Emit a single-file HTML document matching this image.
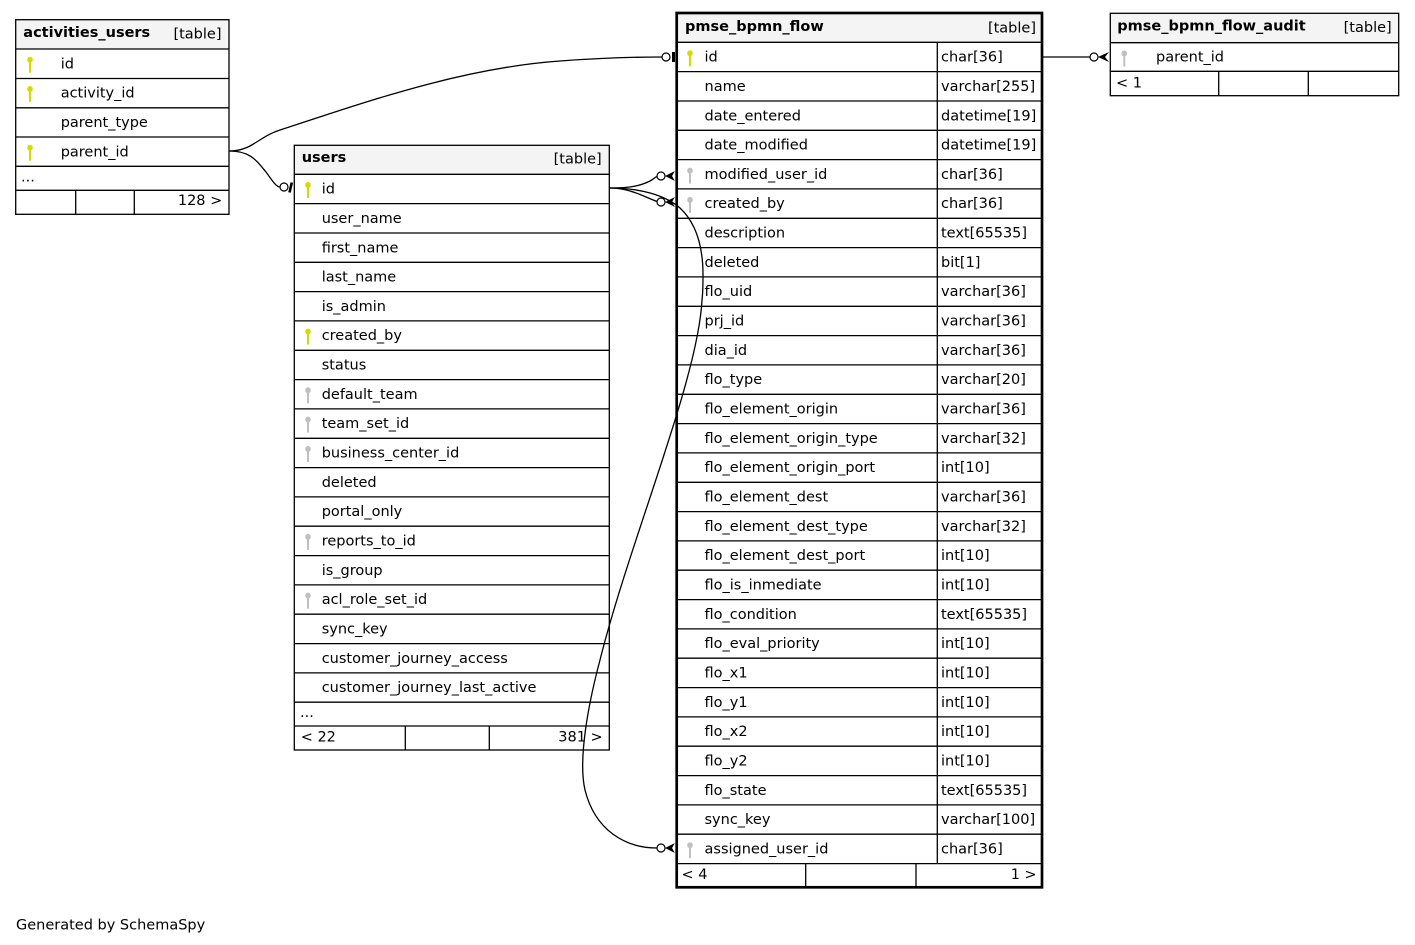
<!DOCTYPE html>
<html><head><meta charset="utf-8"><style>
html,body{margin:0;padding:0;background:#fff;}
svg{display:block;font-family:"DejaVu Sans","Liberation Sans",sans-serif;font-size:14.5px;}
.b{font-weight:bold;}
.e{text-anchor:end;}
.l{stroke:#000;stroke-width:1.3;fill:none;}
.h{fill:#f4f4f4;stroke:none;}
</style></head><body>
<svg width="1415" height="945" viewBox="0 0 1415 945" xmlns="http://www.w3.org/2000/svg">
<defs>
<g id="key"><ellipse cx="0" cy="-4" rx="2.8" ry="3"/><rect x="-1" y="-2" width="2" height="11"/></g>
</defs>
<rect x="0" y="0" width="1415" height="945" fill="#fff"/>

<!-- activities_users -->
<rect class="h" x="15.7" y="19.7" width="213.3" height="29.3"/>
<rect class="l" x="15.7" y="19.7" width="213.3" height="194.6"/>
<path class="l" d="M15.7,49H229M15.7,78.5H229M15.7,107.8H229M15.7,137H229M15.7,166.3H229M15.7,190.3H229M75.7,190.3V214.3M134.3,190.3V214.3"/>
<text class="b" x="23.3" y="37">activities_users</text>
<text class="e" x="221.5" y="38.5">[table]</text>
<use href="#key" x="30" y="63.7" fill="#d9d900"/>
<use href="#key" x="30" y="93" fill="#d9d900"/>
<use href="#key" x="30" y="151.7" fill="#d9d900"/>
<text x="60.7" y="68.3">id</text>
<text x="60.7" y="97.6">activity_id</text>
<text x="60.7" y="126.9">parent_type</text>
<text x="60.7" y="156.3">parent_id</text>
<text x="21" y="181.5">...</text>
<text class="e" x="222.3" y="205">128 &gt;</text>

<!-- users -->
<rect class="h" x="294.3" y="145.3" width="315" height="29"/>
<rect class="l" x="294.3" y="145.3" width="315" height="604.7"/>
<path class="l" d="M294.3,174.3H609.3M294.3,203.6H609.3M294.3,233H609.3M294.3,262.3H609.3M294.3,291.6H609.3M294.3,320.9H609.3M294.3,350.3H609.3M294.3,379.6H609.3M294.3,408.9H609.3M294.3,438.3H609.3M294.3,467.6H609.3M294.3,496.9H609.3M294.3,526.2H609.3M294.3,555.6H609.3M294.3,584.9H609.3M294.3,614.2H609.3M294.3,643.6H609.3M294.3,672.9H609.3M294.3,702.2H609.3M294.3,726H609.3M405.3,726V750M489.3,726V750"/>
<text class="b" x="301.7" y="162">users</text>
<text class="e" x="601.7" y="163.5">[table]</text>
<use href="#key" x="308" y="189" fill="#d9d900"/>
<use href="#key" x="308" y="335.6" fill="#d9d900"/>
<use href="#key" x="308" y="394.3" fill="#c0c0c0"/>
<use href="#key" x="308" y="423.6" fill="#c0c0c0"/>
<use href="#key" x="308" y="453" fill="#c0c0c0"/>
<use href="#key" x="308" y="540.9" fill="#c0c0c0"/>
<use href="#key" x="308" y="599.6" fill="#c0c0c0"/>
<text x="321.7" y="193.6">id</text>
<text x="321.7" y="222.9">user_name</text>
<text x="321.7" y="252.3">first_name</text>
<text x="321.7" y="281.6">last_name</text>
<text x="321.7" y="310.9">is_admin</text>
<text x="321.7" y="340.2">created_by</text>
<text x="321.7" y="369.6">status</text>
<text x="321.7" y="398.9">default_team</text>
<text x="321.7" y="428.2">team_set_id</text>
<text x="321.7" y="457.6">business_center_id</text>
<text x="321.7" y="486.9">deleted</text>
<text x="321.7" y="516.2">portal_only</text>
<text x="321.7" y="545.5">reports_to_id</text>
<text x="321.7" y="574.9">is_group</text>
<text x="321.7" y="604.2">acl_role_set_id</text>
<text x="321.7" y="633.5">sync_key</text>
<text x="321.7" y="662.9">customer_journey_access</text>
<text x="321.7" y="692.2">customer_journey_last_active</text>
<text x="300" y="717">...</text>
<text x="300.7" y="741.7">&lt; 22</text>
<text class="e" x="602.7" y="741.7">381 &gt;</text>

<!-- pmse_bpmn_flow -->
<rect class="h" x="676.7" y="13" width="365.3" height="29.3"/>
<path class="l" d="M676.7,42.3H1042M676.7,71.6H1042M676.7,101H1042M676.7,130.3H1042M676.7,159.6H1042M676.7,188.9H1042M676.7,218.3H1042M676.7,247.6H1042M676.7,276.9H1042M676.7,306.3H1042M676.7,335.6H1042M676.7,364.9H1042M676.7,394.3H1042M676.7,423.6H1042M676.7,452.9H1042M676.7,482.3H1042M676.7,511.6H1042M676.7,540.9H1042M676.7,570.2H1042M676.7,599.6H1042M676.7,628.9H1042M676.7,658.2H1042M676.7,687.6H1042M676.7,716.9H1042M676.7,746.2H1042M676.7,775.6H1042M676.7,804.9H1042M676.7,834.2H1042M676.7,863.6H1042M937.3,42.3V863.6M805.7,863.6V887.3M916,863.6V887.3"/>
<rect x="676.7" y="13" width="365.3" height="874.3" fill="none" stroke="#000" stroke-width="2.7"/>
<text class="b" x="685" y="31">pmse_bpmn_flow</text>
<text class="e" x="1036" y="32.5">[table]</text>
<use href="#key" x="690" y="57.3" fill="#d9d900"/>
<use href="#key" x="690" y="174.6" fill="#c0c0c0"/>
<use href="#key" x="690" y="203.9" fill="#c0c0c0"/>
<use href="#key" x="690" y="849.2" fill="#c0c0c0"/>
<g>
<text x="704.5" y="61.6">id</text><text x="941" y="61.6">char[36]</text>
<text x="704.5" y="90.9">name</text><text x="941" y="90.9">varchar[255]</text>
<text x="704.5" y="120.3">date_entered</text><text x="941" y="120.3">datetime[19]</text>
<text x="704.5" y="149.6">date_modified</text><text x="941" y="149.6">datetime[19]</text>
<text x="704.5" y="178.9">modified_user_id</text><text x="941" y="178.9">char[36]</text>
<text x="704.5" y="208.2">created_by</text><text x="941" y="208.2">char[36]</text>
<text x="704.5" y="237.6">description</text><text x="941" y="237.6">text[65535]</text>
<text x="704.5" y="266.9">deleted</text><text x="941" y="266.9">bit[1]</text>
<text x="704.5" y="296.2">flo_uid</text><text x="941" y="296.2">varchar[36]</text>
<text x="704.5" y="325.6">prj_id</text><text x="941" y="325.6">varchar[36]</text>
<text x="704.5" y="354.9">dia_id</text><text x="941" y="354.9">varchar[36]</text>
<text x="704.5" y="384.2">flo_type</text><text x="941" y="384.2">varchar[20]</text>
<text x="704.5" y="413.6">flo_element_origin</text><text x="941" y="413.6">varchar[36]</text>
<text x="704.5" y="442.9">flo_element_origin_type</text><text x="941" y="442.9">varchar[32]</text>
<text x="704.5" y="472.2">flo_element_origin_port</text><text x="941" y="472.2">int[10]</text>
<text x="704.5" y="501.6">flo_element_dest</text><text x="941" y="501.6">varchar[36]</text>
<text x="704.5" y="530.9">flo_element_dest_type</text><text x="941" y="530.9">varchar[32]</text>
<text x="704.5" y="560.2">flo_element_dest_port</text><text x="941" y="560.2">int[10]</text>
<text x="704.5" y="589.5">flo_is_inmediate</text><text x="941" y="589.5">int[10]</text>
<text x="704.5" y="618.9">flo_condition</text><text x="941" y="618.9">text[65535]</text>
<text x="704.5" y="648.2">flo_eval_priority</text><text x="941" y="648.2">int[10]</text>
<text x="704.5" y="677.5">flo_x1</text><text x="941" y="677.5">int[10]</text>
<text x="704.5" y="706.9">flo_y1</text><text x="941" y="706.9">int[10]</text>
<text x="704.5" y="736.2">flo_x2</text><text x="941" y="736.2">int[10]</text>
<text x="704.5" y="765.5">flo_y2</text><text x="941" y="765.5">int[10]</text>
<text x="704.5" y="794.9">flo_state</text><text x="941" y="794.9">text[65535]</text>
<text x="704.5" y="824.2">sync_key</text><text x="941" y="824.2">varchar[100]</text>
<text x="704.5" y="853.5">assigned_user_id</text><text x="941" y="853.5">char[36]</text>
</g>
<text x="681.5" y="879">&lt; 4</text>
<text class="e" x="1036.7" y="879">1 &gt;</text>

<!-- pmse_bpmn_flow_audit -->
<rect class="h" x="1110.3" y="13.3" width="288.4" height="29.4"/>
<rect class="l" x="1110.3" y="13.3" width="288.4" height="82.4"/>
<path class="l" d="M1110.3,42.7H1398.7M1110.3,71.3H1398.7M1218.7,71.3V95.7M1308.3,71.3V95.7"/>
<text class="b" x="1117.3" y="30.5">pmse_bpmn_flow_audit</text>
<text class="e" x="1391.7" y="32">[table]</text>
<use href="#key" x="1124.3" y="57.5" fill="#c0c0c0"/>
<text x="1156" y="61.5">parent_id</text>
<text x="1116" y="87.5">&lt; 1</text>

<!-- edges -->
<g fill="none" stroke="#000" stroke-width="1.3">
<path d="M229.5,151 C252,151 258,137 280,130 C360,104 460,68 560,61 C600,58 640,57 662,57"/>
<path d="M229.5,151 C250,151 256,160 266,172 C272,180 276,187 280,187"/>
<path d="M609.5,188 C630,188 640,186 650,181 C654,179 655,177 657,176.5"/>
<path d="M609.5,188 C630,188 642,196 657,201.5"/>
<path d="M609.5,188 C640,188 665,195 680,208 C695,222 703,245 703,275 C703,285 703,292 702,300 C698,380 630,540 600,660 C588,705 578,760 585,790 C595,830 625,848 657,848"/>
<path d="M1043,57 H1090"/>
</g>
<g fill="#fff" stroke="#000" stroke-width="1.2">
<circle cx="666" cy="57" r="4"/>
<circle cx="284" cy="187" r="4"/>
<circle cx="661" cy="176" r="4"/>
<circle cx="661" cy="202" r="4"/>
<circle cx="661" cy="848" r="4"/>
<circle cx="1094" cy="57" r="4"/>
</g>
<rect x="672" y="52" width="3" height="10" fill="#000"/>
<line x1="289.5" y1="192.5" x2="291.8" y2="182.5" stroke="#000" stroke-width="2.6"/>
<g fill="#000">
<polygon points="665,176 675,171 672,176 675,181"/>
<polygon points="665,202 675,197 672,202 675,207"/>
<polygon points="665,848 675,843 672,848 675,853"/>
<polygon points="1098,57 1109,52 1105,57 1109,62"/>
</g>

<text x="16" y="929.5">Generated by SchemaSpy</text>
</svg>
</body></html>
